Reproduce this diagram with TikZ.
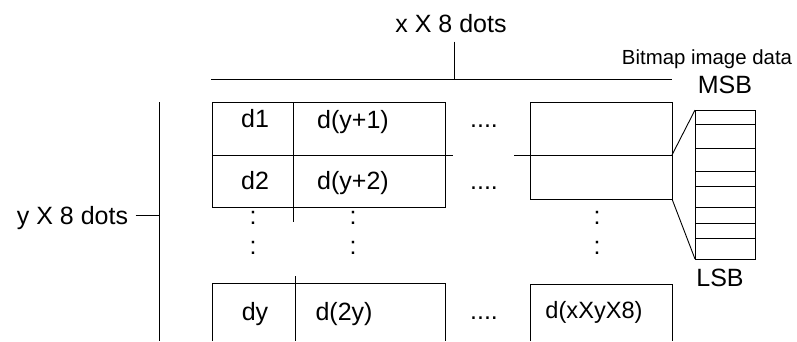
\documentclass[tikz,border=0pt]{standalone}
\usepackage{fontspec}
\setmainfont{Liberation Sans}
\usetikzlibrary{calc}

\begin{document}
\begin{tikzpicture}[x=1pt,y=-1pt,line width=0.9pt,
	lbl/.style={font=\fontsize{25}{30}\selectfont,inner sep=0pt,anchor=base},
	note/.style={font=\fontsize{20.4}{24}\selectfont,inner sep=0pt,anchor=base}]

	\useasboundingbox (0,0) rectangle (797,341);

	\coordinate (xbar) at (454,79);
	\coordinate (ytick) at (159,215);
	\coordinate (hi) at (672,155);
	\coordinate (lo) at (672,199);
	\coordinate (msbtop) at (695,110);
	\coordinate (lsbbot) at (695,259);

	% width bracket
	\draw (211,79) -- (672,79);
	\node[lbl,inner ysep=9pt] (xdots) at (451,32) {x X 8 dots};
	\draw (xdots.south -| xbar) -- (xbar);

	% height bracket
	\draw (159,102) -- (159,341);
	\node[lbl,inner xsep=7pt] (ydots) at (72.5,224) {y X 8 dots};
	\draw (ydots.east |- ytick) -- (ytick);

	% first two rows
	\draw (212,102) rectangle (445,207);
	\draw (212,155) -- (453,155);
	\draw (293,102) -- (293,222);
	\draw (530,102) rectangle (672,199);
	\draw (514,155) -- (hi);

	% last row
	\draw (212,341) |- (445,283) -- (445,341);
	\draw (295,276) -- (295,341);
	\draw (530,341) |- (672,284) -- (672,341);

	% one byte, MSB on top
	\draw (msbtop) rectangle (755,259);
	\foreach \y in {124,148,171,186,207,223,238}
		\draw (695,\y) -- (755,\y);
	\draw (hi) -- (msbtop);
	\draw (lo) -- (lsbbot);

	% cell labels
	\node[lbl] (d1) at (255,127) {d1};
	\node[lbl] (dy1) at (353,128) {d(y+1)};
	\node[lbl] (d2) at (255,189) {d2};
	\node[lbl] (dy2) at (353,189) {d(y+2)};
	\node[lbl] (dy) at (255,320) {dy};
	\node[lbl] (d2y) at (344,320) {d(2y)};
	\node[lbl,font=\fontsize{23.6}{28}\selectfont] (dlast) at (594,318) {d(xXyX8)};

	% skipped columns and rows
	\node[lbl] (skip1) at (484,127) {....};
	\node[lbl] (skip2) at (484,189) {....};
	\node[lbl] (skip3) at (484,319) {....};
	\foreach \x/\n in {253/a,353/b,597/c} {
		\node[lbl] (col\n1) at (\x,224) {:};
		\node[lbl] (col\n2) at (\x,254) {:};
	}

	% byte labels
	\node[note] (bitmap) at (707,64) {Bitmap image data};
	\node[lbl] (msb) at (725,93) {MSB};
	\node[lbl] (lsb) at (720,286) {LSB};

\end{tikzpicture}
\end{document}
